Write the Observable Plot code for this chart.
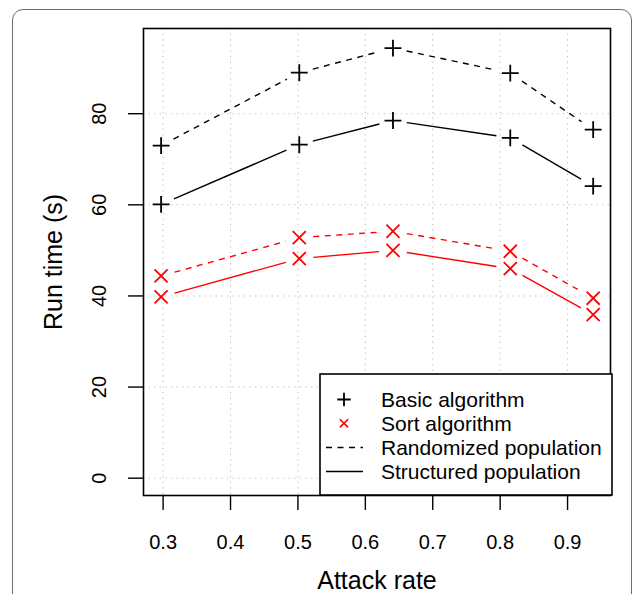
<!DOCTYPE html>
<html>
<head>
<meta charset="utf-8">
<script src="https://cdn.jsdelivr.net/npm/d3@7"></script>
<script src="https://cdn.jsdelivr.net/npm/@observablehq/plot@0.6"></script>
<style>
  html, body { margin: 0; padding: 0; background: #fff; overflow: hidden; }
  #wrap { position: relative; width: 635px; height: 594px; }
  #border { position: absolute; left: 12px; top: 9px; width: 620px; height: 640px;
            border: 1.4px solid #6e6e6e; border-radius: 11px; box-sizing: border-box; }
  #chart { position: absolute; left: 0; top: 0; }
</style>
</head>
<body>
<div id="wrap"><div id="border"></div><div id="chart"></div></div>
<script>
// ---- data ----
const attackRate      = [0.297, 0.502, 0.641, 0.815, 0.938];
const basicRandomized = [73.0, 89.0, 94.4, 88.9, 76.5];
const basicStructured = [60.1, 73.2, 78.5, 74.7, 64.1];
const sortRandomized  = [44.4, 52.8, 54.2, 49.8, 39.5];
const sortStructured  = [39.8, 48.2, 50.0, 46.0, 35.9];
const xTicks = [0.3, 0.4, 0.5, 0.6, 0.7, 0.8, 0.9];
const yTicks = [0, 20, 40, 60, 80];
const legendLabels = ["Basic algorithm", "Sort algorithm", "Randomized population", "Structured population"];
const xLabel = "Attack rate";
const yLabel = "Run time (s)";

// ---- layout ----
const W = 635, H = 594;
const mL = 143, mR = 25, mT = 28, mB = 99;
const xDomain = [0.2709, 0.9637];
const yDomain = [-3.8, 98.7];
const font = "'Liberation Sans', Arial, Helvetica, sans-serif";

const series = [
  {name: "basicRandomized", values: basicRandomized, color: "black", dash: "6,5.5", symbol: "plus"},
  {name: "basicStructured", values: basicStructured, color: "black", dash: null, symbol: "plus"},
  {name: "sortRandomized",  values: sortRandomized,  color: "red",   dash: "6,5.5", symbol: "times"},
  {name: "sortStructured",  values: sortStructured,  color: "red",   dash: null, symbol: "times"}
];

// same mapping as the Plot scales, used only to leave R-style gaps (type = "b") round the points
const px = d3.scaleLinear(xDomain, [mL, W - mR]);
const py = d3.scaleLinear(yDomain, [H - mB, mT]);
const GAP = 14;
function gappedSegments(vals) {
  const segs = [];
  for (let i = 0; i < vals.length - 1; i++) {
    const ax = px(attackRate[i]), ay = py(vals[i]);
    const bx = px(attackRate[i + 1]), by = py(vals[i + 1]);
    const len = Math.hypot(bx - ax, by - ay);
    if (len <= 2 * GAP) continue;
    const ux = (bx - ax) / len, uy = (by - ay) / len;
    segs.push({
      x1: px.invert(ax + ux * GAP), y1: py.invert(ay + uy * GAP),
      x2: px.invert(bx - ux * GAP), y2: py.invert(by - uy * GAP)
    });
  }
  return segs;
}

const marks = [
  Plot.ruleX(xTicks, {x: d => d, stroke: "#bdbdbd", strokeWidth: 1.1, strokeDasharray: "1.2,4.4"}),
  Plot.ruleY(yTicks, {y: d => d, stroke: "#bdbdbd", strokeWidth: 1.1, strokeDasharray: "1.2,4.4"}),
];
for (const s of series) {
  marks.push(Plot.link(gappedSegments(s.values), {
    x1: "x1", y1: "y1", x2: "x2", y2: "y2",
    stroke: s.color, strokeWidth: 1.4, strokeDasharray: s.dash ?? undefined
  }));
  const pts = attackRate.map((x, i) => ({x, y: s.values[i]}));
  marks.push(Plot.dot(pts, {
    x: "x", y: "y", symbol: () => s.symbol,
    r: s.symbol === "plus" ? 5.5 : 6, stroke: s.color, strokeWidth: 1.8, fill: "none"
  }));
}
marks.push(
  Plot.frame({stroke: "black", strokeWidth: 1.6}),
  Plot.axisX({ticks: xTicks, tickSize: 15, tickPadding: 24, fontSize: 20, label: null,
              tickFormat: d => String(d), strokeWidth: 1.4}),
  Plot.axisY({ticks: yTicks, tickSize: 15, tickFormat: () => "", label: null, strokeWidth: 1.4}),
  Plot.text(yTicks, {y: d => d, text: d => String(d), frameAnchor: "left", dx: -44,
                     rotate: -90, textAnchor: "middle", lineAnchor: "middle", fontSize: 20, fill: "black"}),
  Plot.text([xLabel], {text: d => d, frameAnchor: "bottom", dy: 85, lineAnchor: "middle",
                       fontSize: 25, fill: "black"}),
  Plot.text([yLabel], {text: d => d, frameAnchor: "left", dx: -90, rotate: -90,
                       textAnchor: "middle", lineAnchor: "middle", fontSize: 25, fill: "black"})
);

const chart = Plot.plot({
  width: W, height: H,
  marginLeft: mL, marginRight: mR, marginTop: mT, marginBottom: mB,
  x: {domain: xDomain},
  y: {domain: yDomain},
  symbol: {type: "identity"},
  style: {fontFamily: font, background: "transparent", color: "black", overflow: "visible"},
  marks
});
document.getElementById("chart").appendChild(chart);

// ---- legend (inside the plot area, bottom-right, as in the reference) ----
const svg = d3.select(chart);
const lg = svg.append("g").attr("font-family", font).attr("font-size", 21).attr("text-anchor", "start");
const lx = 320, ly = 374, lw = 292, lh = 121;
lg.append("rect").attr("x", lx).attr("y", ly).attr("width", lw).attr("height", lh)
  .attr("fill", "white").attr("stroke", "black").attr("stroke-width", 1.6);
const rows = [399.5, 423.3, 447.5, 471.5];
const sx = 344;
lg.append("path").attr("d", d3.symbol(d3.symbolPlus, 60)())
  .attr("transform", `translate(${sx},${rows[0]})`).attr("fill", "none").attr("stroke", "black").attr("stroke-width", 1.8);
lg.append("path").attr("d", d3.symbol(d3.symbolTimes, 45)())
  .attr("transform", `translate(${sx},${rows[1]})`).attr("fill", "none").attr("stroke", "red").attr("stroke-width", 1.6);
lg.append("line").attr("x1", 326).attr("x2", 363).attr("y1", rows[2]).attr("y2", rows[2])
  .attr("stroke", "black").attr("stroke-width", 1.4).attr("stroke-dasharray", "6,5.5");
lg.append("line").attr("x1", 326).attr("x2", 363).attr("y1", rows[3]).attr("y2", rows[3])
  .attr("stroke", "black").attr("stroke-width", 1.4);
legendLabels.forEach((t, i) => {
  lg.append("text").attr("x", 381).attr("y", rows[i]).attr("dy", "0.35em")
    .attr("text-anchor", "start").attr("fill", "black").text(t);
});
</script>
</body>
</html>
